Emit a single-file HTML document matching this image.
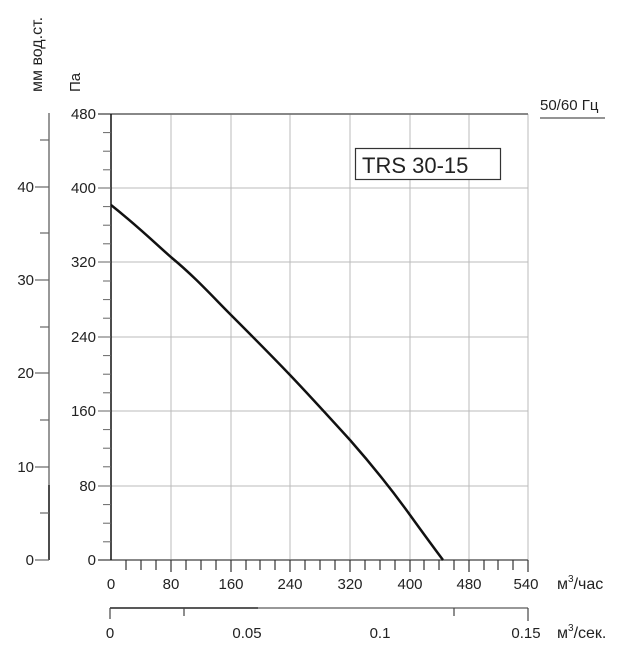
<!DOCTYPE html>
<html><head><meta charset="utf-8"><style>
body{margin:0;background:#fff}
svg text{font-family:"Liberation Sans",sans-serif;fill:#222}
</style></head><body>
<svg width="632" height="650" viewBox="0 0 632 650" xmlns="http://www.w3.org/2000/svg">
<g stroke="#bbb" stroke-width="1">
<line x1="111" y1="188" x2="528" y2="188"/><line x1="111" y1="262" x2="528" y2="262"/>
<line x1="111" y1="337" x2="528" y2="337"/><line x1="111" y1="411" x2="528" y2="411"/>
<line x1="111" y1="486" x2="528" y2="486"/>
<line x1="171" y1="114" x2="171" y2="560"/><line x1="231" y1="114" x2="231" y2="560"/>
<line x1="290" y1="114" x2="290" y2="560"/><line x1="350" y1="114" x2="350" y2="560"/>
<line x1="410" y1="114" x2="410" y2="560"/><line x1="469" y1="114" x2="469" y2="560"/>
<line x1="528" y1="114" x2="528" y2="560"/>
</g>
<line x1="98" y1="114" x2="528" y2="114" stroke="#777" stroke-width="1.8"/>
<line x1="98" y1="560" x2="528" y2="560" stroke="#777" stroke-width="1.8"/>
<line x1="111" y1="114" x2="111" y2="560" stroke="#111" stroke-width="1.5"/>
<g stroke="#666" stroke-width="1">
<line x1="98" y1="188" x2="111" y2="188"/><line x1="98" y1="262" x2="111" y2="262"/>
<line x1="98" y1="337" x2="111" y2="337"/><line x1="98" y1="411" x2="111" y2="411"/>
<line x1="98" y1="486" x2="111" y2="486"/>
<line x1="103" y1="132.6" x2="111" y2="132.6"/><line x1="103" y1="151.2" x2="111" y2="151.2"/><line x1="103" y1="169.8" x2="111" y2="169.8"/>
<line x1="103" y1="206.6" x2="111" y2="206.6"/><line x1="103" y1="225.2" x2="111" y2="225.2"/><line x1="103" y1="243.8" x2="111" y2="243.8"/>
<line x1="103" y1="281" x2="111" y2="281"/><line x1="103" y1="299.6" x2="111" y2="299.6"/><line x1="103" y1="318.2" x2="111" y2="318.2"/>
<line x1="103" y1="355.6" x2="111" y2="355.6"/><line x1="103" y1="374.2" x2="111" y2="374.2"/><line x1="103" y1="392.8" x2="111" y2="392.8"/>
<line x1="103" y1="429.6" x2="111" y2="429.6"/><line x1="103" y1="448.2" x2="111" y2="448.2"/><line x1="103" y1="466.8" x2="111" y2="466.8"/>
<line x1="103" y1="504.6" x2="111" y2="504.6"/><line x1="103" y1="523.2" x2="111" y2="523.2"/><line x1="103" y1="541.8" x2="111" y2="541.8"/>
</g>
<g stroke="#333" stroke-width="1.2">
<line x1="126" y1="560" x2="126" y2="570"/><line x1="141" y1="560" x2="141" y2="570"/><line x1="156" y1="560" x2="156" y2="570"/><line x1="171" y1="560" x2="171" y2="572"/>
<line x1="186" y1="560" x2="186" y2="570"/><line x1="201" y1="560" x2="201" y2="570"/><line x1="216" y1="560" x2="216" y2="570"/><line x1="231" y1="560" x2="231" y2="572"/>
<line x1="246" y1="560" x2="246" y2="570"/><line x1="260" y1="560" x2="260" y2="570"/><line x1="275" y1="560" x2="275" y2="570"/><line x1="290" y1="560" x2="290" y2="572"/>
<line x1="305" y1="560" x2="305" y2="570"/><line x1="320" y1="560" x2="320" y2="570"/><line x1="335" y1="560" x2="335" y2="570"/><line x1="350" y1="560" x2="350" y2="572"/>
<line x1="365" y1="560" x2="365" y2="570"/><line x1="380" y1="560" x2="380" y2="570"/><line x1="395" y1="560" x2="395" y2="570"/><line x1="410" y1="560" x2="410" y2="572"/>
<line x1="424" y1="560" x2="424" y2="570"/><line x1="439" y1="560" x2="439" y2="570"/><line x1="454" y1="560" x2="454" y2="570"/><line x1="469" y1="560" x2="469" y2="572"/>
<line x1="484" y1="560" x2="484" y2="570"/><line x1="498" y1="560" x2="498" y2="570"/><line x1="513" y1="560" x2="513" y2="570"/><line x1="528" y1="560" x2="528" y2="572"/>
</g>
<g font-size="15" text-anchor="end">
<text x="96" y="119">480</text><text x="96" y="193">400</text><text x="96" y="267">320</text>
<text x="96" y="342">240</text><text x="96" y="416">160</text><text x="96" y="491">80</text><text x="96" y="565">0</text>
</g>
<g font-size="15" text-anchor="middle">
<text x="111" y="589">0</text><text x="171" y="589">80</text><text x="231" y="589">160</text><text x="290" y="589">240</text>
<text x="350" y="589">320</text><text x="410" y="589">400</text><text x="469" y="589">480</text><text x="526" y="589">540</text>
</g>
<text x="557" y="589" font-size="16">м<tspan font-size="10" dy="-7">3</tspan><tspan dy="7">/час</tspan></text>
<line x1="49" y1="113" x2="49" y2="485" stroke="#777" stroke-width="1.5"/>
<line x1="49" y1="485" x2="49" y2="560" stroke="#111" stroke-width="1.5"/>
<g stroke="#666" stroke-width="1.2">
<line x1="35" y1="560" x2="49" y2="560"/><line x1="35" y1="467" x2="49" y2="467"/><line x1="35" y1="373" x2="49" y2="373"/><line x1="35" y1="280" x2="49" y2="280"/><line x1="35" y1="187" x2="49" y2="187"/>
<line x1="40" y1="513" x2="49" y2="513"/><line x1="40" y1="420" x2="49" y2="420"/><line x1="40" y1="327" x2="49" y2="327"/><line x1="40" y1="233" x2="49" y2="233"/><line x1="40" y1="140" x2="49" y2="140"/>
</g>
<g font-size="15" text-anchor="end">
<text x="34" y="565">0</text><text x="34" y="472">10</text><text x="34" y="378">20</text><text x="34" y="285">30</text><text x="34" y="192">40</text>
</g>
<text transform="translate(42,92) rotate(-90)" font-size="16">мм вод.ст.</text>
<text transform="translate(80,92) rotate(-90)" font-size="15">Па</text>
<line x1="110" y1="608" x2="258" y2="608" stroke="#222" stroke-width="1.5"/>
<line x1="258" y1="608" x2="528" y2="608" stroke="#777" stroke-width="1.5"/>
<g stroke="#444" stroke-width="1.2">
<line x1="110" y1="608" x2="110" y2="619"/><line x1="184" y1="608" x2="184" y2="616"/><line x1="454" y1="608" x2="454" y2="616"/><line x1="528" y1="608" x2="528" y2="621"/>
</g>
<g font-size="15" text-anchor="middle">
<text x="110" y="638">0</text><text x="247" y="638">0.05</text><text x="380" y="638">0.1</text><text x="526" y="638">0.15</text>
</g>
<text x="557" y="638" font-size="16">м<tspan font-size="10" dy="-7">3</tspan><tspan dy="7">/сек.</tspan></text>
<text x="540" y="110" font-size="15">50/60 Гц</text>
<line x1="540" y1="118" x2="605" y2="118" stroke="#555" stroke-width="1.2"/>
<rect x="355.5" y="148.5" width="145" height="31" fill="#fff" stroke="#333" stroke-width="1.2"/>
<text x="362" y="173" font-size="22" fill="#111">TRS 30-15</text>
<path d="M111,205 C140,228 158,246 172,258 C195,277 213,297 230,314 C250,334 270,354 290,375 C310,396 330,418 350,440 C372,465 392,490 410,515 C423,533 434,548 443,560" fill="none" stroke="#111" stroke-width="2.5"/>
</svg>
</body></html>
